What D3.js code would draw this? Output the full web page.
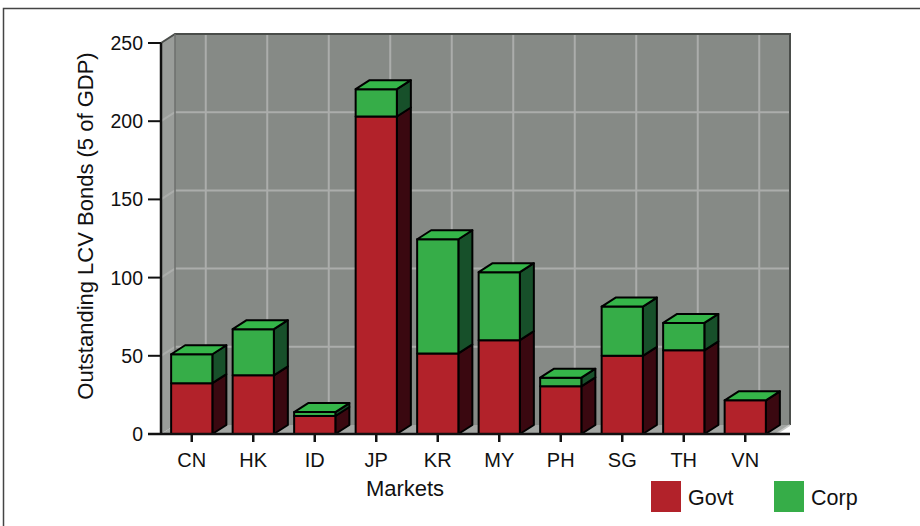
<!DOCTYPE html>
<html>
<head>
<meta charset="utf-8">
<script src="https://cdn.jsdelivr.net/npm/d3@7"></script>
<style>
  body { margin: 0; background: #fff; }
  text { font-family: "Liberation Sans", Arial, sans-serif; }
</style>
</head>
<body>
<div id="chart"></div>
<script>
const markets = ['CN', 'HK', 'ID', 'JP', 'KR', 'MY', 'PH', 'SG', 'TH', 'VN'];
const govt = [32.5, 37.5, 11.5, 203, 51.5, 60, 30.5, 50, 53.5, 21.5];
const corp = [18.5, 29.5, 2.5, 17.5, 73, 43.5, 5.5, 31.5, 17.5, 0];
const yTicks = [0, 50, 100, 150, 200, 250];
const seriesNames = ['Govt', 'Corp'];

const W = 920, H = 526;
const plot = { left: 161, right: 776, top: 43, bottom: 434 };
const depth = { x: 14, y: -9 };

const col = {
  govt: { front: '#b2222a', side: '#3a0810', top: '#b2222a' },
  corp: { front: '#36ad48', side: '#17502a', top: '#35b649' },
  wall: '#868a86', leftWall: '#9a9d9a', floor: '#a3a6a3', grid: '#abadab'
};

const svg = d3.select('#chart').append('svg')
  .attr('width', W).attr('height', H);

// outer frame
svg.append('rect')
  .attr('x', 3.5).attr('y', 8.5).attr('width', W + 20).attr('height', H + 20)
  .attr('fill', 'none').attr('stroke', '#444').attr('stroke-width', 1.5);

const x = d3.scaleBand().domain(markets).range([plot.left, plot.right]).paddingInner(0.33).paddingOuter(0.165);
const y = d3.scaleLinear().domain([0, 250]).range([plot.bottom, plot.top]);

const dx = depth.x, dy = depth.y;

// back wall
svg.append('rect')
  .attr('x', plot.left + dx).attr('y', plot.top + dy)
  .attr('width', plot.right - plot.left).attr('height', plot.bottom - plot.top)
  .attr('fill', col.wall);

// left wall
svg.append('path')
  .attr('d', `M${plot.left},${plot.top} L${plot.left + dx},${plot.top + dy} L${plot.left + dx},${plot.bottom + dy} L${plot.left},${plot.bottom} Z`)
  .attr('fill', col.leftWall);

// floor
svg.append('path')
  .attr('d', `M${plot.left},${plot.bottom} L${plot.left + dx},${plot.bottom + dy} L${plot.right + dx},${plot.bottom + dy} L${plot.right},${plot.bottom} Z`)
  .attr('fill', col.floor);

// grid on back wall
const grid = svg.append('g').attr('stroke', col.grid).attr('stroke-width', 2);
yTicks.filter(t => t > 0 && t < 250).forEach(t => {
  grid.append('line')
    .attr('x1', plot.left + dx).attr('x2', plot.right + dx)
    .attr('y1', y(t) + dy).attr('y2', y(t) + dy);
  grid.append('line')
    .attr('x1', plot.left).attr('x2', plot.left + dx)
    .attr('y1', y(t)).attr('y2', y(t) + dy);
});
markets.forEach(m => {
  const cx = x(m) + x.bandwidth() / 2 + dx;
  grid.append('line')
    .attr('x1', cx).attr('x2', cx)
    .attr('y1', plot.top + dy).attr('y2', plot.bottom + dy);
});

// wall edges
svg.append('path')
  .attr('d', `M${plot.left},${plot.top} L${plot.left + dx},${plot.top + dy} L${plot.right + dx},${plot.top + dy} L${plot.right + dx},${plot.bottom + dy}`)
  .attr('fill', 'none').attr('stroke', '#4a4d4a').attr('stroke-width', 2);
svg.append('line')
  .attr('x1', plot.left + dx).attr('x2', plot.left + dx)
  .attr('y1', plot.top + dy).attr('y2', plot.bottom + dy)
  .attr('stroke', '#6c6f6c').attr('stroke-width', 1.5);
svg.append('line')
  .attr('x1', plot.right).attr('x2', plot.right + dx)
  .attr('y1', plot.bottom).attr('y2', plot.bottom + dy)
  .attr('stroke', '#c8cac8').attr('stroke-width', 1.5);

// 3d bars
const bw = x.bandwidth();
function box(g, x0, y0, y1, c) {
  // y0 bottom px, y1 top px
  g.append('path')
    .attr('d', `M${x0 + bw},${y0} L${x0 + bw + dx},${y0 + dy} L${x0 + bw + dx},${y1 + dy} L${x0 + bw},${y1} Z`)
    .attr('fill', c.side);
  g.append('rect')
    .attr('x', x0).attr('y', y1).attr('width', bw).attr('height', y0 - y1)
    .attr('fill', c.front);
}
const bars = svg.append('g')
  .attr('stroke', '#000').attr('stroke-width', 2).attr('stroke-linejoin', 'round');
markets.forEach((m, i) => {
  const g = bars.append('g');
  const x0 = x(m);
  const g0 = y(0), g1 = y(govt[i]), c1 = y(govt[i] + corp[i]);
  box(g, x0, g0, g1, col.govt);
  if (corp[i] > 0) box(g, x0, g1, c1, col.corp);
  g.append('path')
    .attr('d', `M${x0},${c1} L${x0 + dx},${c1 + dy} L${x0 + bw + dx},${c1 + dy} L${x0 + bw},${c1} Z`)
    .attr('fill', col.corp.top);
});

// y axis
const yAxis = svg.append('g');
yAxis.append('line')
  .attr('x1', plot.left).attr('x2', plot.left)
  .attr('y1', plot.top).attr('y2', plot.bottom)
  .attr('stroke', '#111').attr('stroke-width', 2.5);
yTicks.forEach(t => {
  yAxis.append('line')
    .attr('x1', plot.left - 13).attr('x2', plot.left)
    .attr('y1', y(t)).attr('y2', y(t))
    .attr('stroke', '#111').attr('stroke-width', 2);
  yAxis.append('text')
    .attr('x', plot.left - 18).attr('y', y(t)).attr('dy', '0.36em')
    .attr('text-anchor', 'end').attr('font-size', 19.5).attr('fill', '#111')
    .text(t);
});

// x axis
const xAxis = svg.append('g');
xAxis.append('line')
  .attr('x1', plot.left - 13).attr('x2', plot.right + dx)
  .attr('y1', plot.bottom).attr('y2', plot.bottom)
  .attr('stroke', '#111').attr('stroke-width', 2.5);
markets.forEach(m => {
  const cx = x(m) + bw / 2;
  xAxis.append('line')
    .attr('x1', cx).attr('x2', cx)
    .attr('y1', plot.bottom).attr('y2', plot.bottom + 8)
    .attr('stroke', '#111').attr('stroke-width', 2.5);
  xAxis.append('text')
    .attr('x', cx).attr('y', 467)
    .attr('text-anchor', 'middle').attr('font-size', 20).attr('fill', '#111')
    .text(m);
});

// titles
svg.append('text')
  .attr('transform', `translate(93,226) rotate(-90)`)
  .attr('text-anchor', 'middle').attr('font-size', 22).attr('fill', '#111')
  .text('Outstanding LCV Bonds (5 of GDP)');
svg.append('text')
  .attr('x', 405).attr('y', 496)
  .attr('text-anchor', 'middle').attr('font-size', 22).attr('fill', '#111')
  .text('Markets');

// legend
const legendColors = [col.govt.front, col.corp.front];
const leg = svg.append('g');
seriesNames.forEach((s, i) => {
  const lx = 651 + i * 123;
  leg.append('rect')
    .attr('x', lx).attr('y', 481).attr('width', 30).attr('height', 31)
    .attr('fill', legendColors[i]);
  leg.append('text')
    .attr('x', lx + 37).attr('y', 505)
    .attr('font-size', 21.5).attr('fill', '#111')
    .text(s);
});
</script>
</body>
</html>
